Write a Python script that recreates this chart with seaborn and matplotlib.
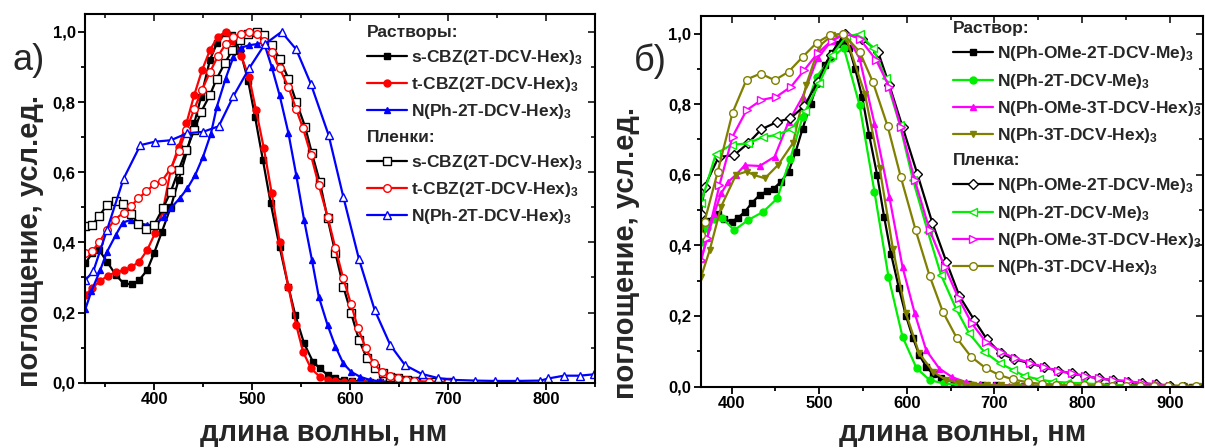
import matplotlib
matplotlib.use('Agg')
import matplotlib.pyplot as plt
import seaborn as sns
from matplotlib.lines import Line2D
from matplotlib.ticker import MultipleLocator, FuncFormatter

# ---- left panel (а): carbazole / triphenylamine, solutions and films ----
sq_sol_x = [330, 337, 344, 352, 361, 369, 378, 385, 393, 400, 408, 417, 425, 434, 441, 448, 457, 464,
            473, 480, 488, 496, 503, 511, 519, 528, 537, 544, 553, 562, 569, 577, 585, 594, 602, 611,
            620, 630, 640, 650, 660, 670, 680, 690, 700]
sq_sol_y = [0.34, 0.37, 0.378, 0.345, 0.307, 0.283, 0.28, 0.293, 0.321, 0.369, 0.43, 0.50, 0.577, 0.663,
            0.739, 0.815, 0.92, 0.967, 0.997, 0.99, 0.945, 0.86, 0.758, 0.635, 0.511, 0.388, 0.274, 0.193,
            0.112, 0.060, 0.041, 0.022, 0.012, 0.007, 0.005, 0.004, 0.003, 0.002, 0.002, 0.001, 0.001,
            0.001, 0.001, 0.0, 0.0]

tc_sol_x = [330, 337, 345, 353, 361, 369, 377, 385, 393, 401, 409, 417, 425, 433, 441, 449, 457, 465,
            473, 481, 489, 497, 504, 512, 520, 528, 537, 545, 552, 560, 569, 577, 585, 594, 602, 611,
            620, 630, 640, 650, 660, 670, 680, 690, 700]
tc_sol_y = [0.25, 0.27, 0.29, 0.305, 0.315, 0.32, 0.33, 0.345, 0.378, 0.426, 0.49, 0.606, 0.672, 0.739,
            0.82, 0.891, 0.948, 0.986, 1.0, 0.975, 0.93, 0.87, 0.777, 0.668, 0.54, 0.402, 0.274, 0.164,
            0.088, 0.041, 0.017, 0.008, 0.004, 0.003, 0.002, 0.002, 0.001, 0.001, 0.001, 0.0, 0.0, 0.0,
            0.0, 0.0, 0.0]

np_sol_x = [330, 336, 345, 352, 361, 368, 376, 385, 393, 401, 410, 417, 426, 434, 442, 450, 458, 464,
            473, 481, 489, 497, 505, 512, 520, 528, 537, 545, 553, 561, 568, 577, 585, 593, 601, 610,
            620, 630, 640, 650, 660, 670, 680, 690, 700]
np_sol_y = [0.21, 0.26, 0.32, 0.373, 0.421, 0.456, 0.464, 0.454, 0.45, 0.449, 0.473, 0.497, 0.525, 0.554,
            0.592, 0.644, 0.71, 0.786, 0.867, 0.929, 0.955, 0.962, 0.965, 0.97, 0.90, 0.82, 0.712, 0.592,
            0.464, 0.35, 0.245, 0.164, 0.103, 0.055, 0.031, 0.017, 0.008, 0.004, 0.002, 0.001, 0.001,
            0.0, 0.0, 0.0, 0.0]

sq_film_x = [330, 337, 344, 352, 361, 368, 377, 384, 392, 400, 409, 417, 425, 433, 441, 448, 457, 464,
             472, 480, 488, 496, 505, 512, 520, 528, 537, 545, 554, 561, 569, 577, 585, 593, 601, 609,
             617, 625, 633, 641, 649, 658, 666, 675, 684, 692, 700]
sq_film_y = [0.446, 0.449, 0.475, 0.506, 0.518, 0.508, 0.481, 0.452, 0.437, 0.449, 0.497, 0.544, 0.606,
             0.663, 0.72, 0.772, 0.82, 0.867, 0.91, 0.948, 0.976, 0.995, 1.0, 0.99, 0.962, 0.924, 0.867,
             0.801, 0.73, 0.654, 0.573, 0.468, 0.369, 0.274, 0.198, 0.122, 0.07, 0.041, 0.027, 0.017,
             0.012, 0.008, 0.005, 0.003, 0.002, 0.001, 0.001]

tc_film_x = [330, 337, 344, 352, 360, 369, 377, 384, 392, 400, 408, 417, 425, 433, 441, 449, 457, 465,
             473, 481, 489, 497, 505, 512, 520, 528, 537, 545, 552, 560, 568, 577, 585, 593, 601, 608,
             616, 624, 632, 641, 649, 657, 665, 680, 700]
tc_film_y = [0.37, 0.375, 0.40, 0.435, 0.465, 0.485, 0.505, 0.525, 0.545, 0.565, 0.575, 0.61, 0.66, 0.72,
             0.78, 0.835, 0.885, 0.93, 0.965, 0.985, 0.995, 1.0, 0.995, 0.975, 0.943, 0.896, 0.843,
             0.779, 0.725, 0.649, 0.563, 0.473, 0.383, 0.297, 0.223, 0.155, 0.098, 0.055, 0.031, 0.02,
             0.012, 0.008, 0.005, 0.003, 0.002]

np_film_x = [330, 338, 352, 369, 386, 401, 417, 434, 450, 466, 481, 497, 513, 530, 545, 560, 578, 593,
             609, 625, 641, 656, 673, 690, 705, 727, 748, 770, 794, 802, 818, 834, 849]
np_film_y = [0.293, 0.317, 0.435, 0.582, 0.677, 0.687, 0.691, 0.711, 0.715, 0.731, 0.817, 0.896, 0.965,
             1.0, 0.95, 0.851, 0.706, 0.53, 0.352, 0.207, 0.107, 0.05, 0.025, 0.013, 0.008, 0.006, 0.005,
             0.005, 0.006, 0.012, 0.02, 0.02, 0.024]

left_names = [r's-CBZ(2T-DCV-Hex)$_3$', r't-CBZ(2T-DCV-Hex)$_3$', r'N(Ph-2T-DCV-Hex)$_3$']

# ---- right panel (б): triphenylamine derivatives ----
ome2_sol_x = [365, 373, 384, 391, 400, 407, 415, 423, 432, 440, 448, 456, 465, 473, 481, 490, 498, 506,
              514, 521, 527, 534, 541, 549, 557, 566, 574, 582, 591, 599, 607, 614, 622, 630, 639, 654,
              670, 686, 702, 734, 766, 798, 830, 862, 894, 926, 938]
ome2_sol_y = [0.45, 0.47, 0.49, 0.475, 0.467, 0.478, 0.495, 0.52, 0.543, 0.553, 0.561, 0.58, 0.609, 0.665,
              0.731, 0.80, 0.859, 0.91, 0.944, 0.97, 0.98, 0.96, 0.90, 0.82, 0.712, 0.60, 0.481, 0.375,
              0.278, 0.2, 0.137, 0.09, 0.056, 0.035, 0.023, 0.012, 0.006, 0.004, 0.003, 0.002, 0.002,
              0.001, 0.001, 0.0, 0.0, 0.0, 0.0]

me2_sol_x = [365, 372, 380, 389, 403, 419, 436, 452, 467, 481, 497, 513, 528, 546, 563, 579, 595, 611,
             626, 642, 658, 674, 690, 706, 730]
me2_sol_y = [0.41, 0.45, 0.475, 0.478, 0.443, 0.472, 0.495, 0.533, 0.646, 0.764, 0.878, 0.93, 0.96,
             0.797, 0.552, 0.311, 0.141, 0.052, 0.018, 0.009, 0.005, 0.003, 0.002, 0.001, 0.0]

ome3_sol_x = [365, 372, 380, 388, 396, 405, 415, 432, 449, 465, 481, 498, 514, 530, 546, 563, 580, 595,
              609, 622, 637, 652, 668, 684, 700, 716, 732]
ome3_sol_y = [0.36, 0.42, 0.49, 0.547, 0.58, 0.60, 0.627, 0.625, 0.651, 0.75, 0.821, 0.93, 0.98, 1.0,
              0.93, 0.745, 0.537, 0.339, 0.207, 0.103, 0.051, 0.026, 0.012, 0.006, 0.004, 0.002, 0.001]

t3_sol_x = [365, 375, 388, 405, 417, 426, 438, 453, 470, 485, 500, 515, 531, 552, 569, 584, 599, 614, 630,
            645, 660, 676, 692, 708, 724, 740, 756, 772, 788, 804, 820, 836, 852, 868, 884, 900, 916, 932]
t3_sol_y = [0.31, 0.387, 0.51, 0.60, 0.609, 0.599, 0.59, 0.628, 0.69, 0.854, 0.965, 0.996, 0.986, 0.83,
            0.618, 0.391, 0.207, 0.094, 0.042, 0.018, 0.01, 0.005, 0.004, 0.003, 0.003, 0.002, 0.002,
            0.002, 0.002, 0.002, 0.002, 0.002, 0.002, 0.002, 0.002, 0.002, 0.002, 0.002]

ome2_film_x = [365, 369, 385, 403, 419, 434, 452, 467, 483, 498, 513, 529, 549, 567, 580, 595, 612, 629,
               645, 660, 677, 691, 707, 722, 740, 757, 772, 788, 803, 819, 835, 852, 868, 884, 900, 916]
ome2_film_y = [0.49, 0.566, 0.65, 0.656, 0.69, 0.729, 0.75, 0.76, 0.795, 0.863, 0.94, 1.0, 0.986, 0.949,
               0.854, 0.736, 0.602, 0.464, 0.354, 0.256, 0.188, 0.135, 0.094, 0.078, 0.066, 0.054, 0.045,
               0.037, 0.03, 0.023, 0.018, 0.014, 0.009, 0.006, 0.002, 0.0]

me2_film_x = [365, 382, 400, 419, 436, 451, 468, 484, 500, 515, 530, 546, 561, 576, 592, 607, 624, 639,
              656, 671, 688, 706, 721, 734, 751, 766, 783, 800, 816, 832, 848, 864, 880]
me2_film_y = [0.52, 0.66, 0.685, 0.689, 0.708, 0.712, 0.73, 0.78, 0.86, 0.94, 0.99, 1.0, 0.96, 0.873,
              0.741, 0.585, 0.438, 0.316, 0.221, 0.151, 0.099, 0.066, 0.047, 0.03, 0.02, 0.014, 0.011,
              0.009, 0.007, 0.005, 0.003, 0.002, 0.001]

ome3_film_x = [365, 372, 386, 401, 417, 434, 451, 468, 483, 498, 514, 530, 546, 565, 580, 593, 609, 626,
               643, 659, 674, 690, 707, 723, 740, 757, 772, 788, 803, 819, 835, 852, 868, 884, 900]
ome3_film_y = [0.358, 0.42, 0.57, 0.708, 0.783, 0.812, 0.821, 0.85, 0.897, 0.944, 0.98, 1.0, 0.986, 0.925,
               0.849, 0.736, 0.585, 0.443, 0.34, 0.25, 0.179, 0.127, 0.099, 0.08, 0.068, 0.054, 0.045,
               0.037, 0.03, 0.023, 0.018, 0.016, 0.009, 0.007, 0.001]

t3_film_x = [365, 369, 384, 401, 417, 433, 449, 465, 481, 497, 512, 527, 546, 561, 578, 593, 610, 626, 641,
             657, 673, 690, 705, 721, 738, 754, 770, 786, 802, 818, 834, 850, 866, 882, 898, 914, 930]
t3_film_y = [0.43, 0.467, 0.608, 0.776, 0.87, 0.887, 0.868, 0.892, 0.934, 0.974, 0.996, 1.0, 0.949, 0.864,
             0.738, 0.594, 0.443, 0.313, 0.212, 0.137, 0.085, 0.052, 0.033, 0.02, 0.012, 0.007, 0.005,
             0.004, 0.003, 0.003, 0.002, 0.002, 0.002, 0.002, 0.002, 0.002, 0.002]

right_names = [r'N(Ph-OMe-2T-DCV-Me)$_3$', r'N(Ph-2T-DCV-Me)$_3$',
               r'N(Ph-OMe-3T-DCV-Hex)$_3$', r'N(Ph-3T-DCV-Hex)$_3$']

BLACK, RED, BLUE = '#000000', '#ff0000', '#0000ff'
GREEN, MAGENTA, OLIVE = '#00ee00', '#ff00ff', '#808000'

sns.set_theme(style='ticks')
plt.rcParams['font.family'] = ['Liberation Sans', 'DejaVu Sans']
plt.rcParams['font.weight'] = 'bold'
plt.rcParams['mathtext.fontset'] = 'custom'
plt.rcParams['mathtext.rm'] = 'Liberation Sans:bold'
plt.rcParams['mathtext.it'] = 'Liberation Sans:bold'
plt.rcParams['mathtext.bf'] = 'Liberation Sans:bold'


def style(color, marker, filled):
    return dict(color=color, linewidth=1.6, marker=marker, markersize=5 if filled else 5.5,
                markerfacecolor=color if filled else 'white', markeredgecolor=color,
                markeredgewidth=1.0)


def draw(ax, x, y, color, marker, filled):
    sns.lineplot(x=x, y=y, ax=ax, sort=False, estimator=None, **style(color, marker, filled))
    return Line2D([], [], **style(color, marker, filled))


def legend(ax, head1, group1, head2, group2, anchor):
    blank = Line2D([], [], color='none')
    handles = [blank] + [h for h, _ in group1] + [blank] + [h for h, _ in group2]
    labels = [head1] + [n for _, n in group1] + [head2] + [n for _, n in group2]
    leg = ax.legend(handles, labels, loc='upper left', bbox_to_anchor=anchor, frameon=False,
                    fontsize=12.5, handlelength=2.3, handletextpad=0.25, labelspacing=0.47,
                    borderpad=0, borderaxespad=0)
    rows = leg._legend_handle_box.get_children()[0].get_children()
    for i in (0, len(group1) + 1):
        rows[i].get_children()[0].set_width(0)
        rows[i].sep = 0


def frame(ax, xlim):
    ax.set_xlim(*xlim)
    ax.set_ylim(0, 1.05)
    ax.xaxis.set_major_locator(MultipleLocator(100))
    ax.xaxis.set_minor_locator(MultipleLocator(50))
    ax.yaxis.set_major_locator(MultipleLocator(0.2))
    ax.yaxis.set_minor_locator(MultipleLocator(0.1))
    ax.yaxis.set_major_formatter(FuncFormatter(lambda v, p: f'{v:.1f}'.replace('.', ',')))
    ax.tick_params(which='both', direction='out', width=1.3, colors='black', labelsize=12, pad=2)
    ax.tick_params(which='major', length=5)
    ax.tick_params(which='minor', length=3)
    for s in ax.spines.values():
        s.set_linewidth(1.5)
        s.set_color('black')
        s.set_visible(True)
    top = ax.secondary_xaxis('top')
    top.xaxis.set_major_locator(MultipleLocator(100))
    top.xaxis.set_minor_locator(MultipleLocator(50))
    top.tick_params(which='both', direction='in', width=1.3, labeltop=False)
    top.tick_params(which='major', length=5)
    top.tick_params(which='minor', length=3)
    right = ax.secondary_yaxis('right')
    right.yaxis.set_major_locator(MultipleLocator(0.2))
    right.yaxis.set_minor_locator(MultipleLocator(0.1))
    right.tick_params(which='both', direction='in', width=1.3, labelright=False)
    right.tick_params(which='major', length=5)
    right.tick_params(which='minor', length=3)
    ax.set_xlabel('длина волны, нм', fontsize=21, fontweight='bold', va='baseline')
    ax.set_ylabel('поглощение, усл.ед.', fontsize=21, fontweight='bold', va='bottom')


fig = plt.figure(figsize=(12.05, 4.48), dpi=100)
ax1 = fig.add_axes([85.4 / 1205, 1 - 382.7 / 448, (595.3 - 85.4) / 1205, (382.7 - 14.3) / 448])
ax2 = fig.add_axes([701 / 1205, 1 - 386.5 / 448, (1203 - 701) / 1205, (386.5 - 16) / 448])

# left panel
h_sol = [draw(ax1, sq_sol_x, sq_sol_y, BLACK, 's', True),
         draw(ax1, tc_sol_x, tc_sol_y, RED, 'o', True),
         draw(ax1, np_sol_x, np_sol_y, BLUE, '^', True)]
h_film = [draw(ax1, sq_film_x, sq_film_y, BLACK, 's', False),
          draw(ax1, tc_film_x, tc_film_y, RED, 'o', False),
          draw(ax1, np_film_x, np_film_y, BLUE, '^', False)]
frame(ax1, (330, 850))
legend(ax1, 'Растворы:', list(zip(h_sol, left_names)), 'Пленки:', list(zip(h_film, left_names)),
       (0.552, 0.972))
ax1.xaxis.set_label_coords((324 - 85.4) / 509.9, (382.7 - 441) / 368.4)
ax1.yaxis.set_label_coords((44 - 85.4) / 509.9, (382.7 - 241) / 368.4)

# right panel
g_sol = [draw(ax2, ome2_sol_x, ome2_sol_y, BLACK, 's', True),
         draw(ax2, me2_sol_x, me2_sol_y, GREEN, 'o', True),
         draw(ax2, ome3_sol_x, ome3_sol_y, MAGENTA, '^', True),
         draw(ax2, t3_sol_x, t3_sol_y, OLIVE, 'v', True)]
g_film = [draw(ax2, ome2_film_x, ome2_film_y, BLACK, 'D', False),
          draw(ax2, me2_film_x, me2_film_y, GREEN, '<', False),
          draw(ax2, ome3_film_x, ome3_film_y, MAGENTA, '>', False),
          draw(ax2, t3_film_x, t3_film_y, OLIVE, 'o', False)]
frame(ax2, (365, 938))
legend(ax2, 'Раствор:', list(zip(g_sol, right_names)), 'Пленка:', list(zip(g_film, right_names)),
       (0.502, 0.986))
ax2.xaxis.set_label_coords((963 - 701) / 502, (386.5 - 441) / 370.5)
ax2.yaxis.set_label_coords((640 - 701) / 502, (386.5 - 253) / 370.5)

fig.text(29 / 1205, 1 - 60 / 448, 'а)', fontsize=26, fontweight='normal', ha='center', va='center')
fig.text(650 / 1205, 1 - 61 / 448, 'б)', fontsize=26, fontweight='normal', ha='center', va='center')

fig.savefig('out.png', dpi=100)
